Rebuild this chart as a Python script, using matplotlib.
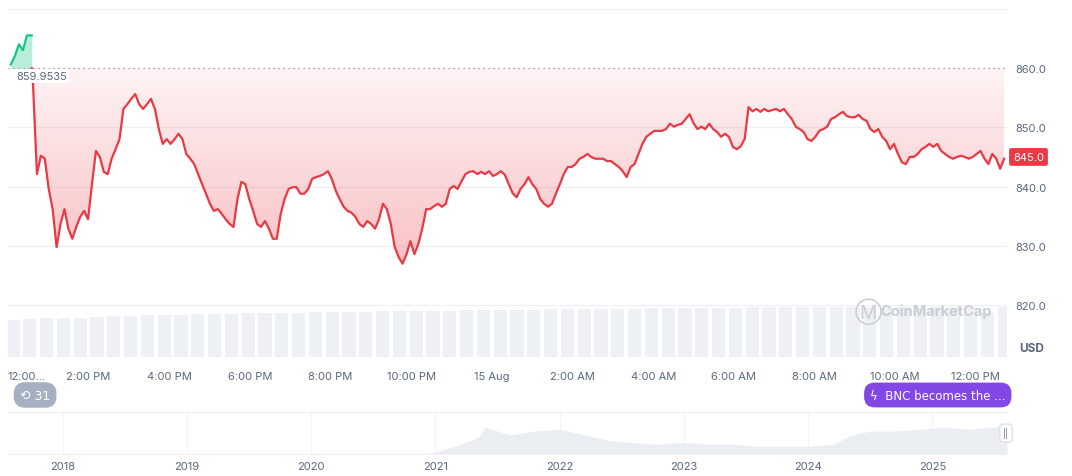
import numpy as np
import matplotlib
matplotlib.use("Agg")
import matplotlib.pyplot as plt
from matplotlib.colors import LinearSegmentedColormap

plt.rcParams['font.family'] = ['Inter', 'DejaVu Sans']

# hours after 12:00 PM on 14 Aug
open_price = 859.9535
green_hours = [0.07, 0.17, 0.27, 0.37, 0.47, 0.57]
green_prices = [860.6, 862.0, 864.0, 863.0, 865.5, 865.5]

red_start, red_end = 0.62, 24.7
red_prices = [
    857.3, 842.1, 845.2, 844.7, 839.6, 836.2, 829.8, 833.7, 836.2, 832.9, 831.2, 833.2,
    834.9, 835.9, 834.5, 840.4, 846.0, 845.0, 842.5, 842.1, 844.7, 846.3, 848.0, 853.1,
    853.9, 854.8, 855.6, 853.9, 853.1, 853.9, 854.8, 853.1, 849.7, 847.2, 848.0, 847.2,
    848.0, 848.9, 848.0, 845.5, 844.7, 843.8, 842.1, 840.4, 838.8, 837.1, 835.9, 836.2,
    835.4, 834.5, 833.7, 833.2, 837.9, 840.8, 840.4, 837.9, 835.9, 833.7, 833.2, 834.2,
    832.9, 831.2, 831.2, 835.4, 837.9, 839.6, 839.9, 839.9, 838.8, 838.8, 839.6, 841.3,
    841.6, 841.8, 842.1, 842.6, 841.3, 839.3, 837.9, 836.6, 835.9, 835.6, 834.9, 833.7,
    833.2, 834.2, 833.7, 832.9, 834.5, 837.1, 836.2, 833.7, 829.8, 828.1, 827.0, 828.6,
    830.8, 828.6, 830.3, 832.9, 836.2, 836.2, 836.7, 837.1, 836.6, 837.1, 839.6, 840.1,
    839.6, 840.9, 842.1, 842.5, 842.6, 842.1, 842.5, 842.1, 842.6, 841.8, 842.1, 842.6,
    842.0, 840.4, 838.9, 838.2, 839.6, 840.4, 841.6, 840.4, 839.6, 837.9, 837.1, 836.6,
    837.1, 838.8, 840.4, 842.1, 843.3, 843.3, 843.8, 844.7, 845.0, 845.5, 845.0, 844.7,
    844.7, 844.7, 844.3, 844.3, 843.8, 843.3, 842.6, 841.6, 843.3, 843.8, 845.5, 847.2,
    848.4, 848.9, 849.4, 849.4, 849.4, 849.7, 850.6, 850.1, 850.4, 850.6, 851.4, 852.2,
    850.7, 849.7, 850.1, 849.7, 850.6, 849.7, 849.2, 848.4, 848.9, 848.4, 846.7, 846.3,
    846.8, 848.0, 853.4, 852.7, 853.1, 852.6, 853.1, 852.7, 852.9, 853.1, 852.7, 853.1,
    852.2, 851.4, 850.1, 849.7, 849.2, 848.0, 847.7, 848.4, 849.4, 849.7, 850.1, 851.4,
    851.7, 852.2, 852.6, 851.9, 851.7, 851.7, 852.1, 851.4, 851.1, 849.7, 849.2, 849.7,
    848.4, 847.7, 846.3, 847.2, 845.5, 844.1, 843.8, 845.0, 845.0, 845.5, 846.3, 846.7,
    847.2, 846.7, 847.2, 846.0, 845.5, 845.0, 844.7, 845.0, 845.2, 845.0, 844.7, 845.0,
    845.5, 846.0, 844.7, 843.8, 845.5, 844.7, 843.0, 844.7,
]
last_price = 845.0

volume = [
    40, 41, 42, 42, 43, 44, 45, 45, 46, 46, 46, 47, 47, 47, 48, 48, 48, 48, 49, 49,
    49, 49, 50, 50, 50, 50, 50, 51, 51, 51, 51, 51, 52, 52, 52, 52, 52, 52, 53, 53,
    53, 53, 53, 53, 54, 54, 54, 54, 54, 54, 54, 55, 55, 55, 55, 55, 55, 55, 48, 55,
]

time_ticks = [0, 2, 4, 6, 8, 10, 12, 14, 16, 18, 20, 22, 24]
time_labels = ['12:00...', '2:00 PM', '4:00 PM', '6:00 PM', '8:00 PM', '10:00 PM', '15 Aug',
               '2:00 AM', '4:00 AM', '6:00 AM', '8:00 AM', '10:00 AM', '12:00 PM']
price_ticks = [820, 830, 840, 850, 860]

nav_years = [2017.56, 2020.9, 2021.0, 2021.2, 2021.35, 2021.4, 2021.6, 2021.8, 2022.0,
             2022.2, 2022.4, 2022.6, 2022.8, 2023.0, 2023.2, 2023.4, 2023.6, 2023.8,
             2024.0, 2024.2, 2024.35, 2024.5, 2024.7, 2024.9, 2025.1, 2025.3, 2025.5, 2025.6]
nav_values = [0, 0, 1, 5, 9, 14, 10, 12, 13, 10, 7, 6, 5, 6, 5, 5, 4, 4, 4, 5, 10, 12, 12,
              13, 14, 13, 14, 16]
year_ticks = list(range(2018, 2026))

RED = '#EA3943'
GREEN = '#16C784'
GREY = '#58667E'

W, H = 1072, 477
fig = plt.figure(figsize=(W / 100, H / 100), dpi=100)
x0, x1 = 8, 1007
PX_PER_H = 40.45
ax = fig.add_axes([x0 / W, 1 - 358 / H, (x1 - x0) / W, 348 / H])
xlim = ((x0 - 5) / PX_PER_H, (x1 - 5) / PX_PER_H)
ylim = (811.26, 869.95)

# volume bars
axv = ax.twinx()
vt = np.linspace(xlim[0] + 0.05, red_end, len(volume))
axv.bar(vt, volume, width=(red_end - xlim[0]) / len(volume) * 0.8, color='#EDF0F4',
        linewidth=0)
axv.set_ylim(0, max(volume) / 0.145)
axv.set_xlim(*xlim)
axv.axis('off')
ax.set_zorder(axv.get_zorder() + 1)
ax.patch.set_visible(False)

rt = np.linspace(red_start, red_end, len(red_prices))
rp = np.array(red_prices)
# gradient fill under open price, stronger towards the bottom
grad = np.linspace(0, 1, 256).reshape(-1, 1)
cmap = LinearSegmentedColormap.from_list('g', [(0.92, 0.22, 0.26, 0.06), (0.92, 0.22, 0.26, 0.32)])
img = ax.imshow(grad, extent=[xlim[0], xlim[1], 826, open_price], aspect='auto',
                cmap=cmap, origin='upper', zorder=1)
poly = ax.fill_between(rt, rp, open_price, color='none')
img.set_clip_path(poly.get_paths()[0], transform=ax.transData)
ax.plot(rt, rp, color=RED, lw=1.6, zorder=3)

gt = green_hours + [red_start - 0.03]
gp = green_prices + [green_prices[-1]]
ax.fill_between(gt, gp, open_price, color=GREEN, alpha=0.3, lw=0)
ax.plot(gt, gp, color=GREEN, lw=1.6, zorder=3)
ax.plot([gt[-1], red_start], [open_price, red_prices[0]], color=RED, lw=1.6, zorder=3)

for p in price_ticks[:-1]:
    ax.axhline(p, color='#EEF0F3', lw=0.9, zorder=0)
ax.axhline(open_price, color='#808A9D', lw=0.9, ls=(0, (1, 3)), zorder=2)
ax.text(0.2, open_price - 0.4, '859.9535', fontsize=8, color=GREY, va='top', ha='left',
        bbox=dict(facecolor='white', edgecolor='none', pad=1.5), zorder=4)

ax.set_xlim(*xlim)
ax.set_ylim(*ylim)
for s in ['left', 'bottom', 'right']:
    ax.spines[s].set_visible(False)
ax.spines['top'].set_color('#EEF0F3')
ax.yaxis.tick_right()
ax.set_yticks(price_ticks)
ax.set_yticklabels([f'{p:.1f}' for p in price_ticks])
ax.tick_params(axis='y', length=0, labelsize=8, colors=GREY, pad=6)
ax.set_xticks(time_ticks)
ax.set_xticklabels(time_labels)
ax.tick_params(axis='x', length=0, labelsize=8, colors=GREY, pad=10)
labs = ax.get_xticklabels()
labs[0].set_ha('left')
ax.text(1.006, last_price, f'{last_price:.1f}', transform=ax.get_yaxis_transform(), fontsize=8,
        color='white', va='center', ha='left',
        bbox=dict(boxstyle='round,pad=0.35,rounding_size=0.2', facecolor=RED, edgecolor='none'))
ax.text(1.012, 811.8, 'USD', transform=ax.get_yaxis_transform(), fontsize=8.5, color=GREY,
        fontweight='bold', va='bottom', ha='left')
ax.text(0.985, 819.0, 'CoinMarketCap', transform=ax.get_yaxis_transform(), fontsize=10.5,
        color='#C9CED6', fontweight='bold', ha='right', va='center', zorder=5)
ax.text(0.848, 819.0, 'Ⓜ', transform=ax.get_yaxis_transform(), fontsize=14,
        color='#C9CED6', ha='left', va='center', zorder=5)

# badges
fig.text(20 / W, 1 - 396 / H, '⟲ 31', fontsize=9, color='white', va='center', ha='left',
         family=['DejaVu Sans'],
         bbox=dict(boxstyle='round,pad=0.5,rounding_size=0.9', facecolor='#A6B0C3', edgecolor='none'))
fig.text(870 / W, 1 - 396 / H, 'ϟ  BNC becomes the ...', fontsize=8.5, color='white',
         va='center', ha='left', family=['DejaVu Sans'],
         bbox=dict(boxstyle='round,pad=0.5,rounding_size=0.9', facecolor='#8247E5', edgecolor='none'))

# navigator
axn = fig.add_axes([x0 / W, 1 - 455 / H, (x1 - x0) / W, 42 / H])
axn.fill_between(nav_years, nav_values, 0, color='#EAEDF1', lw=0)
axn.set_xlim(nav_years[0], nav_years[-1])
axn.set_ylim(0, 22)
for y in year_ticks:
    axn.axvline(y, color='#F3F4F6', lw=0.8, zorder=0)
axn.set_xticks(year_ticks)
axn.set_xticklabels([str(y) for y in year_ticks])
axn.tick_params(axis='x', length=0, labelsize=8, colors=GREY, pad=5)
axn.set_yticks([])
for s in ['left', 'right']:
    axn.spines[s].set_visible(False)
axn.spines['top'].set_color('#F0F1F3')
axn.spines['bottom'].set_color('#EEF0F3')
fig.text(1006 / W, 1 - 434 / H, '||', fontsize=6, color=GREY, ha='center', va='center',
         bbox=dict(boxstyle='round,pad=0.4', facecolor='white', edgecolor='#DDE1E6'))

fig.savefig('out.png', dpi=100)
